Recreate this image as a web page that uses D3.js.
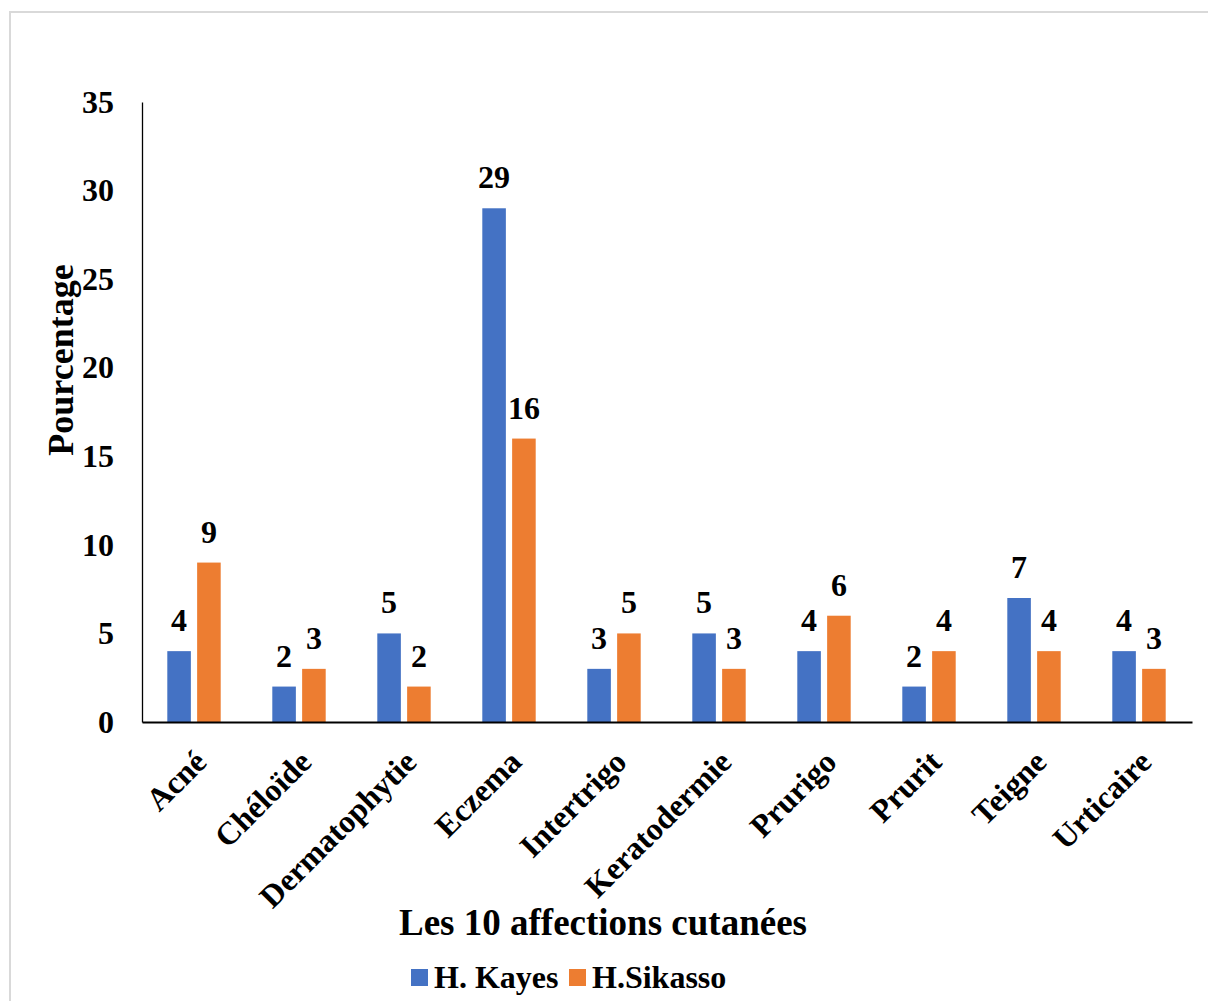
<!DOCTYPE html>
<html>
<head>
<meta charset="utf-8">
<script src="https://cdn.jsdelivr.net/npm/d3@7"></script>
<style>
  html, body { margin: 0; padding: 0; background: #fff; }
  svg { display: block; }
  text { font-family: "Liberation Serif", "Times New Roman", serif; font-weight: bold; fill: #000; }
</style>
</head>
<body>
<svg id="chart" width="1208" height="1001"></svg>
<script>
// Skin conditions and their share (%) in each hospital
const categories = ["Acné", "Chéloïde", "Dermatophytie", "Eczema", "Intertrigo",
                    "Keratodermie", "Prurigo", "Prurit", "Teigne", "Urticaire"];
const kayes   = [4, 2, 5, 29, 3, 5, 4, 2, 7, 4];
const sikasso = [9, 3, 2, 16, 5, 3, 6, 4, 4, 3];
const seriesNames = ["H. Kayes", "H.Sikasso"];
const seriesColors = ["#4472C4", "#ED7D31"];
const yTicks = [0, 5, 10, 15, 20, 25, 30, 35];

const svg = d3.select("#chart");

// outer frame
svg.append("rect")
  .attr("x", 10).attr("y", 12)
  .attr("width", 1210).attr("height", 1000)
  .attr("fill", "none").attr("stroke", "#d9d9d9").attr("stroke-width", 2);

const plot = { left: 142, right: 1192, top: 102, bottom: 722 };

const x = d3.scaleBand().domain(categories).range([plot.left, plot.right]).padding(0);
const xs = d3.scaleBand().domain(seriesNames).range([25.3, 78.7]).paddingInner(0.21);
const y = d3.scaleLinear().domain([0, 35]).range([plot.bottom, plot.top]);

const rows = categories.map((c, i) => ({ cat: c, vals: [kayes[i], sikasso[i]] }));

// bars
const groups = svg.append("g").selectAll("g").data(rows).join("g")
  .attr("transform", d => `translate(${x(d.cat)},0)`);

groups.selectAll("rect")
  .data(d => d.vals.map((v, j) => ({ s: seriesNames[j], v, j })))
  .join("rect")
  .attr("x", d => xs(d.s))
  .attr("y", d => y(d.v))
  .attr("width", xs.bandwidth())
  .attr("height", d => y(0) - y(d.v))
  .attr("fill", d => seriesColors[d.j]);

// value labels
groups.selectAll("text.val")
  .data(d => d.vals.map((v, j) => ({ s: seriesNames[j], v, j })))
  .join("text")
  .attr("class", "val")
  .attr("x", d => xs(d.s) + xs.bandwidth() / 2)
  .attr("y", d => y(d.v) - 20)
  .attr("text-anchor", "middle")
  .style("font-size", "32px")
  .text(d => d.v);

// y axis
const yAxis = svg.append("g")
  .attr("transform", `translate(${plot.left},0)`)
  .call(d3.axisLeft(y).tickValues(yTicks).tickSize(0).tickPadding(28));
yAxis.select(".domain").attr("stroke", "#000").attr("stroke-width", 1.3);
yAxis.selectAll("text")
  .style("font-family", "'Liberation Serif', serif")
  .style("font-weight", "bold")
  .style("font-size", "32px")
  .attr("fill", "#000");

// x axis line
const xAxis = svg.append("g")
  .attr("transform", `translate(0,${plot.bottom})`)
  .call(d3.axisBottom(x).tickSize(0).tickFormat(""));
xAxis.select(".domain").attr("stroke", "#000").attr("stroke-width", 2);

// rotated category labels
svg.append("g").selectAll("text").data(categories).join("text")
  .attr("transform", d => `translate(${x(d) + x.bandwidth() / 2 - 2},${plot.bottom + 26}) rotate(-45)`)
  .attr("text-anchor", "end")
  .attr("dy", "0.7em")
  .style("font-size", "32px")
  .text(d => d);

// axis titles
svg.append("text")
  .attr("x", 603).attr("y", 935)
  .attr("text-anchor", "middle")
  .style("font-size", "37px")
  .text("Les 10 affections cutanées");

svg.append("text")
  .attr("transform", "translate(73,360) rotate(-90)")
  .attr("text-anchor", "middle")
  .style("font-size", "36px")
  .text("Pourcentage");

// legend
const legend = svg.append("g");
const legendItems = [{ x: 411, textX: 434 }, { x: 569, textX: 592 }];
seriesNames.forEach((name, i) => {
  legend.append("rect")
    .attr("x", legendItems[i].x).attr("y", 969)
    .attr("width", 17).attr("height", 17)
    .attr("fill", seriesColors[i]);
  legend.append("text")
    .attr("x", legendItems[i].textX).attr("y", 988)
    .style("font-size", "32px")
    .text(name);
});
</script>
</body>
</html>
